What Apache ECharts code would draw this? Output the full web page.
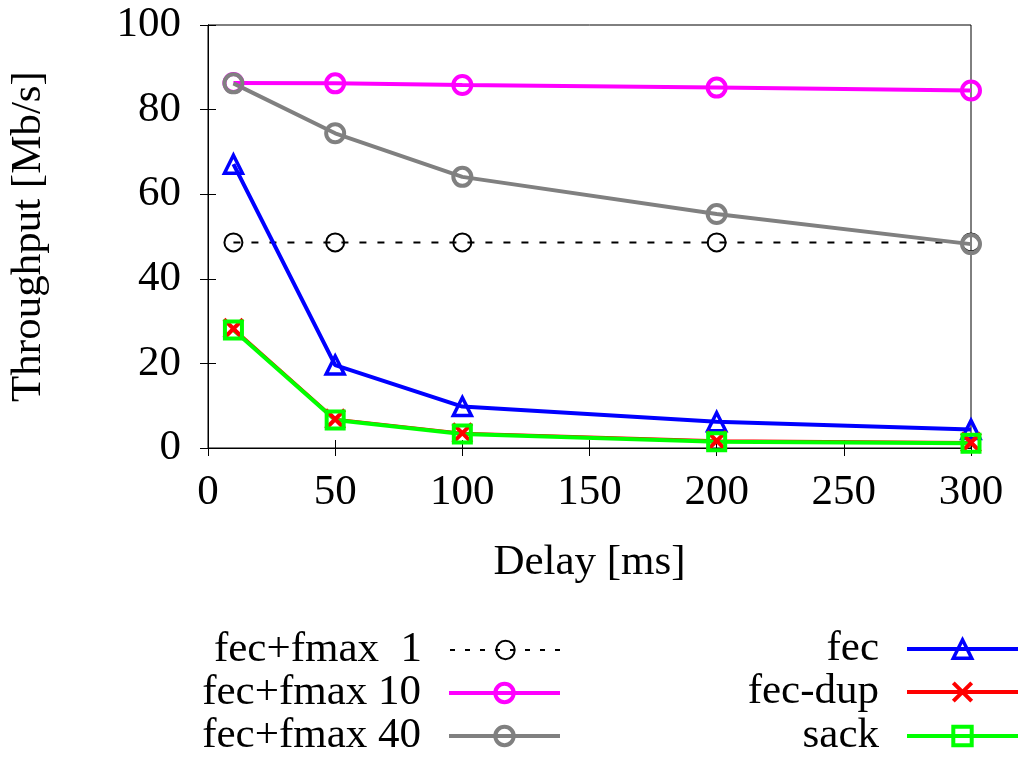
<!DOCTYPE html>
<html>
<head>
<meta charset="utf-8">
<script src="https://cdn.jsdelivr.net/npm/echarts@6/dist/echarts.min.js"></script>
<style>html,body{margin:0;padding:0;background:#fff}#c{width:1021px;height:758px}</style>
</head>
<body>
<div id="c"></div>
<script>
const delays = [10, 50, 100, 200, 300];
const fmax1 = [48.6, 48.6, 48.6, 48.6, 48.6];
const fmax10 = [86.3, 86.2, 85.8, 85.2, 84.5];
const fmax40 = [86.2, 74.4, 64.1, 55.3, 48.2];
const fec = [67.1, 19.6, 9.8, 6.2, 4.4];
const fecDup = [28.2, 6.8, 3.5, 1.7, 1.3];
const sack = [27.9, 6.6, 3.3, 1.5, 1.1];
const xTicks = [0, 50, 100, 150, 200, 250, 300];
const yTicks = [0, 20, 40, 60, 80, 100];

const FONT = 'Liberation Serif';
const FS = 43;
const T = 'rgba(0,0,0,0)';
const pairs = ys => delays.map((x, i) => [x, ys[i]]);
const CROSS = 'path://M0,0L10,10M10,0L0,10';

function mk(name, ys, color, symbol, size, width, dash, bw) {
  return {
    name, type: 'line', data: pairs(ys), xAxisIndex: 0, yAxisIndex: 0,
    symbol, symbolSize: size, showSymbol: true,
    lineStyle: { color, width, type: dash || 'solid' },
    itemStyle: { color: T, borderColor: color, borderWidth: bw },
    emphasis: { disabled: true }, animation: false, z: 2
  };
}

const series = [
  mk('fec+fmax  1', fmax1, '#000000', 'circle', 18, 2, [7, 11], 2),
  mk('fec+fmax 10', fmax10, '#ff00ff', 'circle', 18, 4, null, 4),
  mk('fec+fmax 40', fmax40, '#808080', 'circle', 18, 4, null, 4),
  mk('fec', fec, '#0000ff', 'triangle', 18, 4, null, 3.5),
  mk('fec-dup', fecDup, '#ff0000', CROSS, 19, 3, null, 4),
  mk('sack', sack, '#00ff00', 'rect', 17, 4, null, 4)
];

const legendText = { fontFamily: FONT, fontSize: FS, color: '#000', padding: [0, 23, 0, 0] };

function leg(name, color, dash, lw, bw, right, centerY) {
  return {
    orient: 'horizontal', align: 'right', padding: 0,
    itemWidth: 111, itemHeight: 23, textStyle: legendText, selectedMode: false,
    right, top: centerY - FS / 2,
    data: [{ name, itemStyle: { color: T, borderColor: color, borderWidth: bw },
             lineStyle: { color, width: lw, type: dash || 'solid' } }]
  };
}

const axisCommon = {
  axisLine: { show: true, lineStyle: { color: '#000', width: 1 } },
  axisTick: { show: true, inside: true, length: 8, lineStyle: { color: '#000', width: 1 } },
  splitLine: { show: false }
};

const option = {
  backgroundColor: '#fff',
  animation: false,
  grid: { left: 208, right: 50, top: 25, bottom: 310, containLabel: false, outerBoundsMode: 'none',
          show: true, borderColor: '#000', borderWidth: 1 },
  xAxis: [
    Object.assign({ type: 'value', position: 'bottom', min: xTicks[0], max: xTicks[xTicks.length - 1], interval: 50,
      name: 'Delay [ms]', nameLocation: 'middle', nameGap: 93,
      nameTextStyle: { fontFamily: FONT, fontSize: FS, color: '#000' },
      axisLabel: { fontFamily: FONT, fontSize: FS, color: '#000', margin: 23 } }, axisCommon),
    Object.assign({ type: 'value', position: 'top', min: xTicks[0], max: xTicks[xTicks.length - 1], interval: 50,
      axisLabel: { show: false } }, axisCommon)
  ],
  yAxis: [
    Object.assign({ type: 'value', position: 'left', min: yTicks[0], max: yTicks[yTicks.length - 1], interval: 20,
      name: 'Throughput [Mb/s]', nameLocation: 'middle', nameGap: 158, nameRotate: 90,
      nameTextStyle: { fontFamily: FONT, fontSize: FS, color: '#000' },
      axisLabel: { fontFamily: FONT, fontSize: FS, color: '#000', margin: 27 } }, axisCommon),
    Object.assign({ type: 'value', position: 'right', min: yTicks[0], max: yTicks[yTicks.length - 1], interval: 20,
      axisLabel: { show: false } }, axisCommon)
  ],
  legend: [
    leg('fec+fmax  1', '#000000', [5, 10], 2, 2, 459, 650),
    leg('fec+fmax 10', '#ff00ff', null, 4, 4, 459, 693),
    leg('fec+fmax 40', '#808080', null, 4, 4, 459, 736),
    leg('fec', '#0000ff', null, 4, 3.5, 1, 649),
    leg('fec-dup', '#ff0000', null, 4, 4, 1, 692),
    leg('sack', '#00ff00', null, 4, 4, 1, 736)
  ],
  series
};

const chart = echarts.init(document.getElementById('c'), null, { renderer: 'canvas' });
chart.setOption(option);
</script>
</body>
</html>
